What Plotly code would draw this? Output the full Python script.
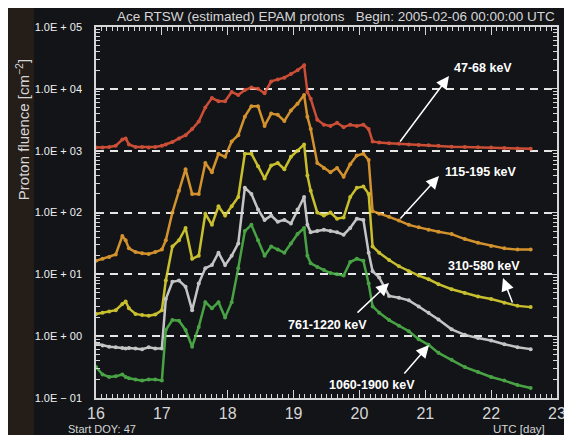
import math
import plotly.graph_objects as go

# ---------------- data ----------------
day = [16.0, 16.1, 16.2, 16.3, 16.4, 16.45, 16.5, 16.6, 16.7, 16.8, 16.9, 17.0,
       17.06, 17.16, 17.26, 17.36, 17.46, 17.56, 17.66, 17.76, 17.86, 17.96,
       18.06, 18.16, 18.26, 18.36, 18.46, 18.56, 18.66, 18.76, 18.86, 18.96,
       19.06, 19.16, 19.21, 19.26, 19.36, 19.46, 19.56, 19.66, 19.76, 19.86,
       19.96, 20.06, 20.14, 20.2, 20.3, 20.45, 20.6, 20.75, 20.9, 21.05, 21.2,
       21.4, 21.6, 21.8, 22.0, 22.2, 22.4, 22.6]

kev_47_68 = [1120, 1120, 1150, 1200, 1510, 1580, 1260, 1150, 1150, 1120, 1150, 1200,
             1260, 1380, 1580, 1780, 2240, 2950, 5010, 7080, 6310, 6310,
             8910, 7940, 9550, 10470, 10000, 8510, 13180, 14130, 15140, 17380,
             19950, 23990, 8910, 6920, 3160, 2630, 2510, 2820, 2400, 2630,
             2510, 2630, 2240, 1410, 1350, 1320, 1290, 1260, 1230, 1220, 1200,
             1160, 1150, 1140, 1120, 1100, 1080, 1070]

kev_115_195 = [16.6, 17.8, 19.1, 20.9, 41.7, 35.5, 26.3, 22.9, 21.9, 21.4, 22.9, 25.1,
               35.5, 100, 224, 501, 200, 200, 631, 447, 891, 794,
               1410, 1780, 3550, 5250, 5250, 2510, 3980, 3800, 3020, 4470,
               5750, 7940, 3550, 2240, 631, 525, 447, 525, 380, 603,
               832, 891, 708, 105, 95.5, 85.1, 74.1, 63.1, 57.5, 52.5, 49.0,
               44.7, 37.2, 32.4, 28.8, 26.3, 25.1, 25.1]

kev_310_580 = [2.29, 2.40, 2.51, 2.63, 3.31, 3.63, 2.82, 2.29, 2.19, 2.14, 2.24, 2.63,
               7.94, 28.2, 35.5, 56.2, 17.8, 20.0, 95.5, 63.1, 126, 89.1,
               126, 178, 891, 891, 562, 355, 575, 631, 501, 794,
               1000, 1260, 398, 224, 100, 89.1, 100, 79.4, 83.2, 178,
               251, 263, 200, 28.2, 22.4, 17.0, 13.5, 11.2, 9.55, 8.32, 6.92,
               5.75, 5.01, 4.37, 3.98, 3.47, 3.09, 2.95]

kev_761_1220 = [0.759, 0.708, 0.676, 0.661, 0.646, 0.631, 0.646, 0.631, 0.617, 0.661, 0.631, 0.631,
                3.98, 7.59, 7.94, 6.31, 2.63, 7.08, 12.6, 14.1, 22.4, 14.1,
                20.0, 31.6, 251, 200, 112, 75.9, 89.1, 70.8, 75.9, 66.1,
                112, 178, 63.1, 47.9, 50.1, 52.5, 50.1, 47.9, 43.7, 56.2,
                79.4, 75.9, 22.4, 11.2, 8.91, 4.47, 4.17, 3.80, 3.02, 2.40, 1.86,
                1.29, 1.05, 0.933, 0.851, 0.741, 0.661, 0.617]

kev_1060_1900 = [0.316, 0.240, 0.219, 0.224, 0.240, 0.219, 0.209, 0.200, 0.191, 0.200, 0.200, 0.191,
                 1.26, 1.82, 1.78, 1.26, 0.676, 1.41, 3.55, 2.82, 3.55, 2.00,
                 3.55, 12.6, 50.1, 63.1, 35.5, 20.0, 28.2, 25.1, 22.4, 31.6,
                 44.7, 56.2, 20.0, 15.1, 13.2, 11.7, 10.5, 10.0, 9.55, 15.8,
                 17.8, 16.6, 7.08, 3.02, 2.40, 1.82, 1.48, 1.20, 0.891, 0.724, 0.537,
                 0.417, 0.316, 0.263, 0.219, 0.191, 0.162, 0.145]

series_names = ["47-68 keV", "115-195 keV", "310-580 keV", "761-1220 keV", "1060-1900 keV"]
series_values = [kev_47_68, kev_115_195, kev_310_580, kev_761_1220, kev_1060_1900]
series_colors = ["#e0553a", "#e8a030", "#dcd232", "#d8d8d8", "#4fb34a"]

y_tickvals = [1e5, 1e4, 1e3, 1e2, 1e1, 1e0, 1e-1]
y_ticktext = ["1.0E + 05", "1.0E + 04", "1.0E + 03", "1.0E + 02",
              "1.0E + 01", "1.0E + 00", "1.0E \u2212 01"]
x_tickvals = [16, 17, 18, 19, 20, 21, 22, 23]

# label positions (day, value) and arrows (tail -> head)
label_pos = {"47-68 keV": (21.877, 10 ** 4.337), "115-195 keV": (21.846, 10 ** 2.655),
             "310-580 keV": (21.892, 10 ** 1.135), "761-1220 keV": (19.508, 10 ** 0.18),
             "1060-1900 keV": (20.191, 10 ** -0.79)}
arrows = [  # (tail_day, tail_val, head_day, head_val)
    (20.601, 10 ** 3.124, 21.360, 10 ** 4.207),
    (20.601, 10 ** 1.879, 21.208, 10 ** 2.590),
    (22.332, 10 ** 0.520, 22.180, 10 ** 0.940),
    (19.948, 10 ** 0.358, 20.449, 10 ** 0.860),
    (20.662, 10 ** -0.627, 21.056, 10 ** -0.143),
]

# ---------------- figure ----------------
FG = "#d6d6d6"
BG = "#121418"
fig = go.Figure()
for name, vals, col in zip(series_names, series_values, series_colors):
    fig.add_trace(go.Scatter(x=day, y=vals, name=name, mode="lines+markers",
                             line=dict(color=col, width=2.5),
                             marker=dict(color=col, size=4),
                             opacity=0.9, showlegend=False))

minor_y = [k * 10.0 ** d for d in range(-1, 5) for k in range(2, 10)]

fig.update_layout(
    width=572, height=427,
    margin=dict(l=88, r=23, t=19, b=37),
    paper_bgcolor=BG, plot_bgcolor=BG,
    font=dict(family="Liberation Sans, Arial, sans-serif", color=FG),
    xaxis=dict(range=[16, 23], tickvals=x_tickvals, ticks="inside", ticklen=8,
               tickcolor=FG, tickwidth=1.2, showline=True, linecolor=FG, linewidth=1.5,
               mirror="allticks", showgrid=False, zeroline=False,
               ticklabelstandoff=0,
               tickfont=dict(size=16, color=FG),
               minor=dict(dtick=1 / 12, ticks="inside", ticklen=4, tickcolor=FG,
                          tickwidth=1, showgrid=False)),
    yaxis=dict(type="log", range=[-1, 5], tickvals=y_tickvals, ticktext=y_ticktext,
               ticks="inside", ticklen=8, tickcolor=FG, tickwidth=1.2,
               showline=True, linecolor=FG, linewidth=1.5, mirror="allticks",
               showgrid=True, gridcolor="#e6e6e6", gridwidth=1.5, griddash="8px,6px",
               zeroline=False, ticklabelstandoff=10,
               tickfont=dict(size=11, color="#f0f0f0"),
               minor=dict(tickvals=minor_y, ticks="inside", ticklen=4, tickcolor=FG,
                          tickwidth=1, showgrid=False)),
)

# brown strip at the far left of the figure
fig.add_shape(type="rect", xref="paper", yref="paper", x0=-0.1909, x1=-0.1345, y0=-0.0997,
              y1=1.0513, fillcolor="#241d18", line_width=0, layer="above")

# title and axis texts
fig.add_annotation(text="Ace RTSW (estimated) EPAM protons   Begin: 2005-02-06 00:00:00 UTC",
                   xref="paper", yref="paper", x=1.0, y=1.027, xanchor="right", yanchor="middle",
                   showarrow=False, font=dict(size=13.5, color=FG))
fig.add_annotation(text="Proton fluence [cm<sup>\u22122</sup>]", textangle=-90,
                   xref="paper", yref="paper", x=-0.1605, y=0.722, xanchor="center",
                   yanchor="middle", showarrow=False, font=dict(size=15, color=FG))
fig.add_annotation(text="Start DOY: 47", xref="paper", yref="paper", x=-0.065, y=-0.084,
                   xanchor="left", yanchor="middle", showarrow=False,
                   font=dict(size=11, color=FG))
fig.add_annotation(text="UTC [day]", xref="paper", yref="paper", x=0.978, y=-0.084,
                   xanchor="right", yanchor="middle", showarrow=False,
                   font=dict(size=11.5, color=FG))

# arrows
for tx, tv, hx, hv in arrows:
    fig.add_annotation(x=hx, y=math.log10(hv), ax=tx, ay=math.log10(tv),
                       xref="x", yref="y", axref="x", ayref="y", text="",
                       showarrow=True, arrowhead=2, arrowsize=1.7, arrowwidth=1.5,
                       arrowcolor="white")
# channel labels
for name in series_names:
    lx, lv = label_pos[name]
    fig.add_annotation(x=lx, y=math.log10(lv), xref="x", yref="y", text="<b>%s</b>" % name,
                       showarrow=False, font=dict(size=12.5, color="white"))

fig.write_html("out.html")
